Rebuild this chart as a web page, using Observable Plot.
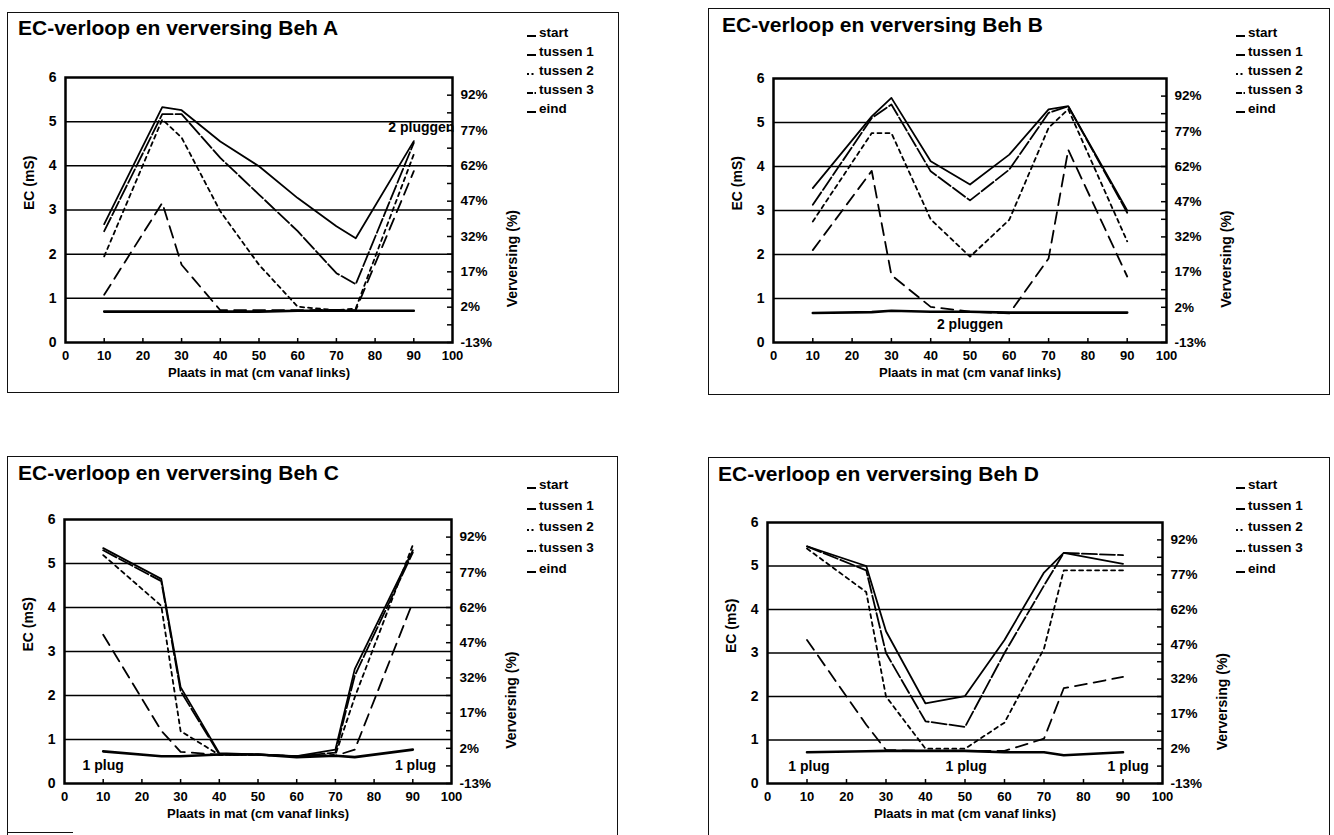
<!DOCTYPE html>
<html>
<head>
<meta charset="utf-8">
<script src="https://cdn.jsdelivr.net/npm/d3@7"></script>
<script src="https://cdn.jsdelivr.net/npm/@observablehq/plot@0.6"></script>
<style>
  html, body { margin: 0; padding: 0; background: #fff; }
  body { width: 1334px; height: 835px; overflow: hidden; position: relative;
         font-family: "Liberation Sans", Arial, sans-serif; font-weight: bold; color: #000; }
  .box { position: absolute; border: 1.5px solid #111; box-sizing: border-box; }
  .title { position: absolute; font-size: 21px; line-height: 24px; font-weight: bold; white-space: nowrap; }
  .legend { position: absolute; font-size: 13.5px; }
  .legend .row { display: flex; align-items: center; white-space: nowrap; }
  .legend svg { margin-right: 3px; }
  .plotwrap { position: absolute; }
</style>
</head>
<body>
<script>
// ---------- data ----------
const xPositions = [10, 25, 30, 40, 50, 60, 70, 75, 90];
const seriesNames = ["start", "tussen 1", "tussen 2", "tussen 3", "eind"];
const ecTicks = [0, 1, 2, 3, 4, 5, 6];
const gridLevels = [1, 2, 3, 4, 5];
const xTicks = [0, 10, 20, 30, 40, 50, 60, 70, 80, 90, 100];
const xInnerTicks = [10, 20, 30, 40, 50, 60, 70, 80, 90];
const pctLabels = [-13, 2, 17, 32, 47, 62, 77, 92];
const pctMinor = [-5.5, 9.5, 24.5, 39.5, 54.5, 69.5, 84.5];
const pctMin = -13, pctMax = 99.5;

const A_start   = [2.68, 5.33, 5.26, 4.55, 3.99, 3.27, 2.63, 2.36, 4.56];
const A_tussen1 = [2.52, 5.17, 5.17, 4.18, 3.35, 2.52, 1.57, 1.32, 4.52];
const A_tussen2 = [1.95, 5.05, 4.64, 2.97, 1.76, 0.81, 0.73, 0.77, 4.26];
const A_tussen3 = [1.08, 3.16, 1.76, 0.73, 0.73, 0.73, 0.74, 0.73, 3.88];
const A_eind    = [0.70, 0.70, 0.70, 0.70, 0.70, 0.72, 0.72, 0.72, 0.72];

const B_start   = [3.51, 5.14, 5.56, 4.12, 3.59, 4.27, 5.30, 5.37, 3.00];
const B_tussen1 = [3.13, 5.10, 5.41, 3.89, 3.23, 3.93, 5.22, 5.37, 2.95];
const B_tussen2 = [2.75, 4.76, 4.76, 2.80, 1.95, 2.79, 4.88, 5.30, 2.30];
const B_tussen3 = [2.10, 3.90, 1.53, 0.81, 0.70, 0.66, 1.91, 4.38, 1.50];
const B_eind    = [0.67, 0.69, 0.72, 0.70, 0.70, 0.68, 0.68, 0.68, 0.68];

const C_start   = [5.35, 4.65, 2.19, 0.69, 0.66, 0.62, 0.77, 2.60, 5.30];
const C_tussen1 = [5.30, 4.60, 2.10, 0.66, 0.66, 0.62, 0.70, 2.45, 5.25];
const C_tussen2 = [5.19, 4.04, 1.19, 0.65, 0.65, 0.62, 0.65, 1.96, 5.42];
const C_tussen3 = [3.38, 1.20, 0.72, 0.65, 0.65, 0.62, 0.63, 0.77, 4.12];
const C_eind    = [0.73, 0.62, 0.62, 0.66, 0.66, 0.60, 0.63, 0.60, 0.77];

const D_start   = [5.45, 5.00, 3.50, 1.84, 2.01, 3.30, 4.85, 5.30, 5.05];
const D_tussen1 = [5.45, 4.90, 3.00, 1.43, 1.30, 3.00, 4.55, 5.30, 5.25];
const D_tussen2 = [5.40, 4.40, 2.00, 0.80, 0.80, 1.40, 3.10, 4.90, 4.90];
const D_tussen3 = [3.30, 1.35, 0.77, 0.75, 0.75, 0.75, 1.03, 2.19, 2.45];
const D_eind    = [0.72, 0.74, 0.75, 0.75, 0.75, 0.72, 0.72, 0.65, 0.72];

const A_notes = [{label: "2 pluggen", x: 100.5, y: 4.86, anchor: "end"}];
const B_notes = [{label: "2 pluggen", x: 50, y: 0.42, anchor: "middle"}];
const C_notes = [{label: "1 plug", x: 10, y: 0.42, anchor: "middle"}, {label: "1 plug", x: 90.7, y: 0.42, anchor: "middle"}];
const D_notes = [{label: "1 plug", x: 10.5, y: 0.39, anchor: "middle"}, {label: "1 plug", x: 50.3, y: 0.39, anchor: "middle"}, {label: "1 plug", x: 91.3, y: 0.38, anchor: "middle"}];

// ---------- styles ----------
const lineDash = ["none", "15,3", "4,4", "12,7", "none"];
const lineWidth = [1.8, 1.8, 1.8, 1.8, 2.6];
const legendDash = ["none", "none", "2,2.5", "6,1.5,1.5,1", "none"];
const FONT = '"Liberation Sans", Arial, sans-serif';

const toMs = p => (p - pctMin) / (pctMax - pctMin) * 6;
const toPct = v => Math.round(v / 6 * (pctMax - pctMin) + pctMin);

const panels = [
  {name: "A", data: [A_start, A_tussen1, A_tussen2, A_tussen3, A_eind], notes: A_notes,
   box: [7, 12, 612, 381], bottom: true, frame: [65, 77, 452, 342], title: [18, 16], legend: [527, 22.5, 19]},
  {name: "B", data: [B_start, B_tussen1, B_tussen2, B_tussen3, B_eind], notes: B_notes,
   box: [708, 8, 622, 387], bottom: true, frame: [773, 78, 1166, 342], title: [722, 13], legend: [1236, 22.5, 19]},
  {name: "C", data: [C_start, C_tussen1, C_tussen2, C_tussen3, C_eind], notes: C_notes,
   box: [7, 456, 611, 380], bottom: false, frame: [64, 519, 451, 783], title: [18, 461], legend: [527, 473.5, 21]},
  {name: "D", data: [D_start, D_tussen1, D_tussen2, D_tussen3, D_eind], notes: D_notes,
   box: [708, 457, 622, 380], bottom: false, frame: [767, 522, 1162, 783], title: [718, 462], legend: [1236, 473.5, 21]}
];

const ml = 50, mr = 80, mt = 8, mb = 50;

for (const p of panels) {
  // outer box
  const box = document.createElement("div");
  box.className = "box";
  Object.assign(box.style, {left: p.box[0] + "px", top: p.box[1] + "px", width: p.box[2] + "px", height: p.box[3] + "px"});
  if (!p.bottom) box.style.borderBottom = "none";
  document.body.appendChild(box);

  // title
  const t = document.createElement("div");
  t.className = "title";
  t.textContent = "EC-verloop en verversing Beh " + p.name;
  Object.assign(t.style, {left: p.title[0] + "px", top: p.title[1] + "px"});
  document.body.appendChild(t);

  // legend
  const lg = document.createElement("div");
  lg.className = "legend";
  Object.assign(lg.style, {left: p.legend[0] + "px", top: p.legend[1] + "px"});
  seriesNames.forEach((s, i) => {
    const r = document.createElement("div");
    r.className = "row";
    r.style.height = p.legend[2] + "px";
    r.innerHTML = `<svg width="9" height="12"><line x1="0" x2="9" y1="10" y2="10" stroke="#000" stroke-width="2" ${legendDash[i] === "none" ? "" : `stroke-dasharray="${legendDash[i]}"`}/></svg><span>${s}</span>`;
    lg.appendChild(r);
  });
  document.body.appendChild(lg);

  // chart
  const [fl, ft, fr, fb] = p.frame;
  const width = fr - fl + ml + mr, height = fb - ft + mt + mb;
  const marks = [
    Plot.ruleY(gridLevels, {stroke: "#000", strokeWidth: 1.5}),
    ...seriesNames.map((s, i) => Plot.line(
      xPositions.map((x, j) => ({x, v: p.data[i][j]})),
      {x: "x", y: "v", stroke: "#000", strokeWidth: lineWidth[i],
       strokeDasharray: lineDash[i] === "none" ? undefined : lineDash[i]})),
    Plot.frame({stroke: "#000", strokeWidth: 2.5}),
    Plot.axisY(ecTicks, {anchor: "left", tickSize: 0, tickPadding: 9, label: null, fontSize: 14, fontWeight: "bold"}),
    Plot.axisX(xTicks, {anchor: "bottom", tickSize: 0, tickPadding: 8, label: null, fontSize: 13, fontWeight: "bold"}),
    Plot.axisX(xInnerTicks, {anchor: "bottom", tickSize: -4, fill: "none", label: null, strokeWidth: 1.5}),
    Plot.axisY(pctLabels.map(toMs), {anchor: "right", tickSize: 0, tickPadding: 8, label: null,
      tickFormat: d => toPct(d) + "%", fontSize: 13.5, fontWeight: "bold"}),
    Plot.axisY(pctLabels.concat(pctMinor).map(toMs), {anchor: "right", tickSize: -6, fill: "none", label: null, strokeWidth: 1.5}),
    Plot.text(["EC (mS)"], {frameAnchor: "left", dx: -36, rotate: -90, fontSize: 14, fontWeight: "bold"}),
    Plot.text(["Verversing (%)"], {frameAnchor: "right", dx: 60, rotate: -90, fontSize: 14, fontWeight: "bold"}),
    Plot.text(["Plaats in mat (cm vanaf links)"], {frameAnchor: "bottom", dy: 34, fontSize: 13, fontWeight: "bold"})
  ];
  for (const a of ["start", "middle", "end"]) {
    const sub = p.notes.filter(d => d.anchor === a);
    if (sub.length) marks.push(Plot.text(sub, {x: "x", y: "y", text: "label", textAnchor: a, fontSize: 14, fontWeight: "bold"}));
  }

  const svg = Plot.plot({
    width, height,
    marginLeft: ml, marginRight: mr, marginTop: mt, marginBottom: mb,
    x: {domain: [0, 100]},
    y: {domain: [0, 6]},
    style: {fontFamily: FONT, fontSize: "14px", fontWeight: "bold", background: "transparent", overflow: "visible", color: "#000"},
    marks
  });
  const wrap = document.createElement("div");
  wrap.className = "plotwrap";
  Object.assign(wrap.style, {left: (fl - ml) + "px", top: (ft - mt) + "px"});
  wrap.appendChild(svg);
  document.body.appendChild(wrap);
}

// short visible bottom border fragment of panel C (scan is cut off there)
const frag = document.createElement("div");
Object.assign(frag.style, {position: "absolute", left: "7px", top: "832px", width: "66px", height: "0", borderTop: "1.5px solid #111"});
document.body.appendChild(frag);
</script>
</body>
</html>
